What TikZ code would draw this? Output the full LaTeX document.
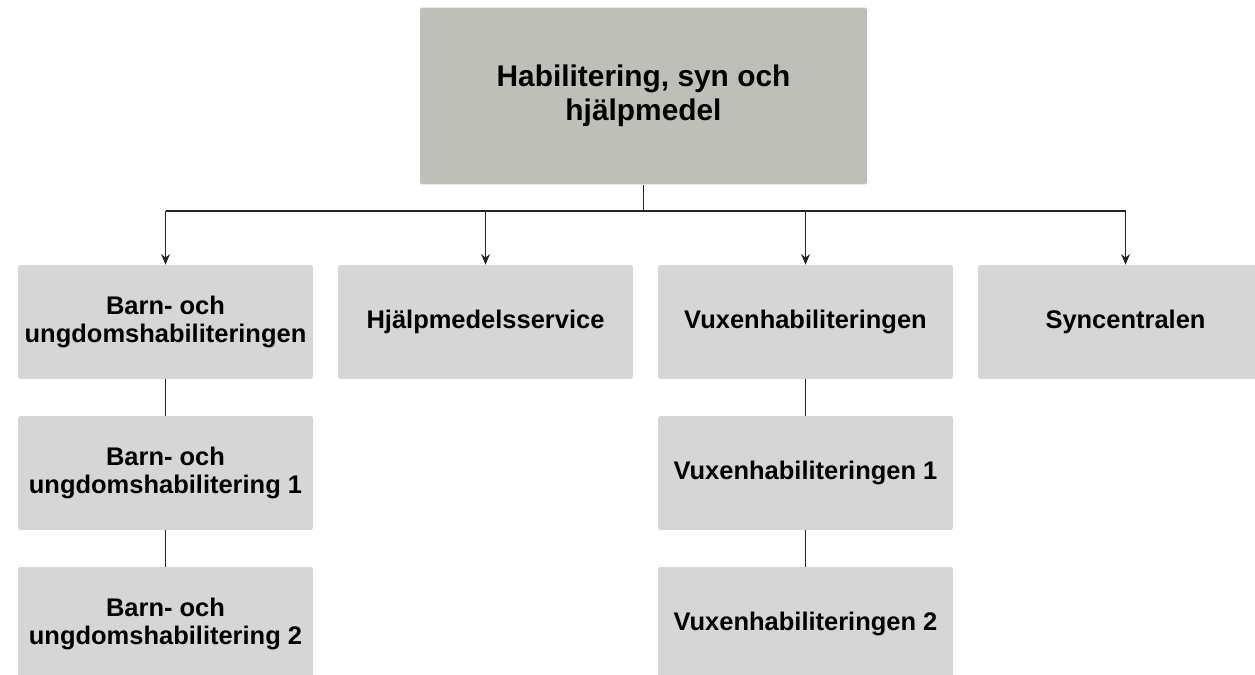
\documentclass[tikz,border=0pt]{standalone}
\usepackage{fontspec}
\setmainfont{Liberation Sans}
\usetikzlibrary{arrows.meta}
\definecolor{headgray}{HTML}{BFBFBA}
\definecolor{unitgray}{HTML}{D6D6D6}
\tikzset{
  unit/.style={fill=unitgray, rounded corners=1pt, minimum width=5.9cm, minimum height=2.28cm,
    align=center, inner sep=0pt, font=\fontsize{14.5}{15.5}\selectfont\bfseries},
  head/.style={unit, fill=headgray, minimum width=8.94cm, minimum height=3.54cm,
    font=\fontsize{17}{19.5}\selectfont\bfseries},
  link/.style={draw=black!85, line width=0.6pt},
  down/.style={link, -{Stealth[length=6pt, width=5pt]}}
}
\begin{document}
\begin{tikzpicture}[x=0.02cm, y=-0.02cm]
    \clip (0, 0) rectangle (1255, 674);

    % top level
    \node [head] (top) at (643.5, 96) {Habilitering, syn och\\hjälpmedel};
    \coordinate (bus) at (0, 211);

    % second level
    \node [unit] (barn)  at (165.5, 322) {Barn- och\\ungdomshabiliteringen};
    \node [unit] (hjalp) at (485.5, 322) {Hjälpmedelsservice};
    \node [unit] (vuxen) at (805.5, 322) {Vuxenhabiliteringen};
    \node [unit] (syn)   at (1125.5, 322) {Syncentralen};

    % third and fourth level
    \node [unit] (barn1)  at (165.5, 473) {Barn- och\\ungdomshabilitering 1};
    \node [unit] (barn2)  at (165.5, 624) {Barn- och\\ungdomshabilitering 2};
    \node [unit] (vuxen1) at (805.5, 473) {Vuxenhabiliteringen 1};
    \node [unit] (vuxen2) at (805.5, 624) {Vuxenhabiliteringen 2};

    % connectors
    \draw [link] (top.south) -- (top.south |- bus);
    \draw [link] (barn.north |- bus) -- (syn.north |- bus);
    \draw [down] (barn.north |- bus) -- (barn.north);
    \draw [down] (hjalp.north |- bus) -- (hjalp.north);
    \draw [down] (vuxen.north |- bus) -- (vuxen.north);
    \draw [down] (syn.north |- bus) -- (syn.north);
    \draw [link] (barn.south) -- (barn1.north);
    \draw [link] (barn1.south) -- (barn2.north);
    \draw [link] (vuxen.south) -- (vuxen1.north);
    \draw [link] (vuxen1.south) -- (vuxen2.north);
\end{tikzpicture}
\end{document}
